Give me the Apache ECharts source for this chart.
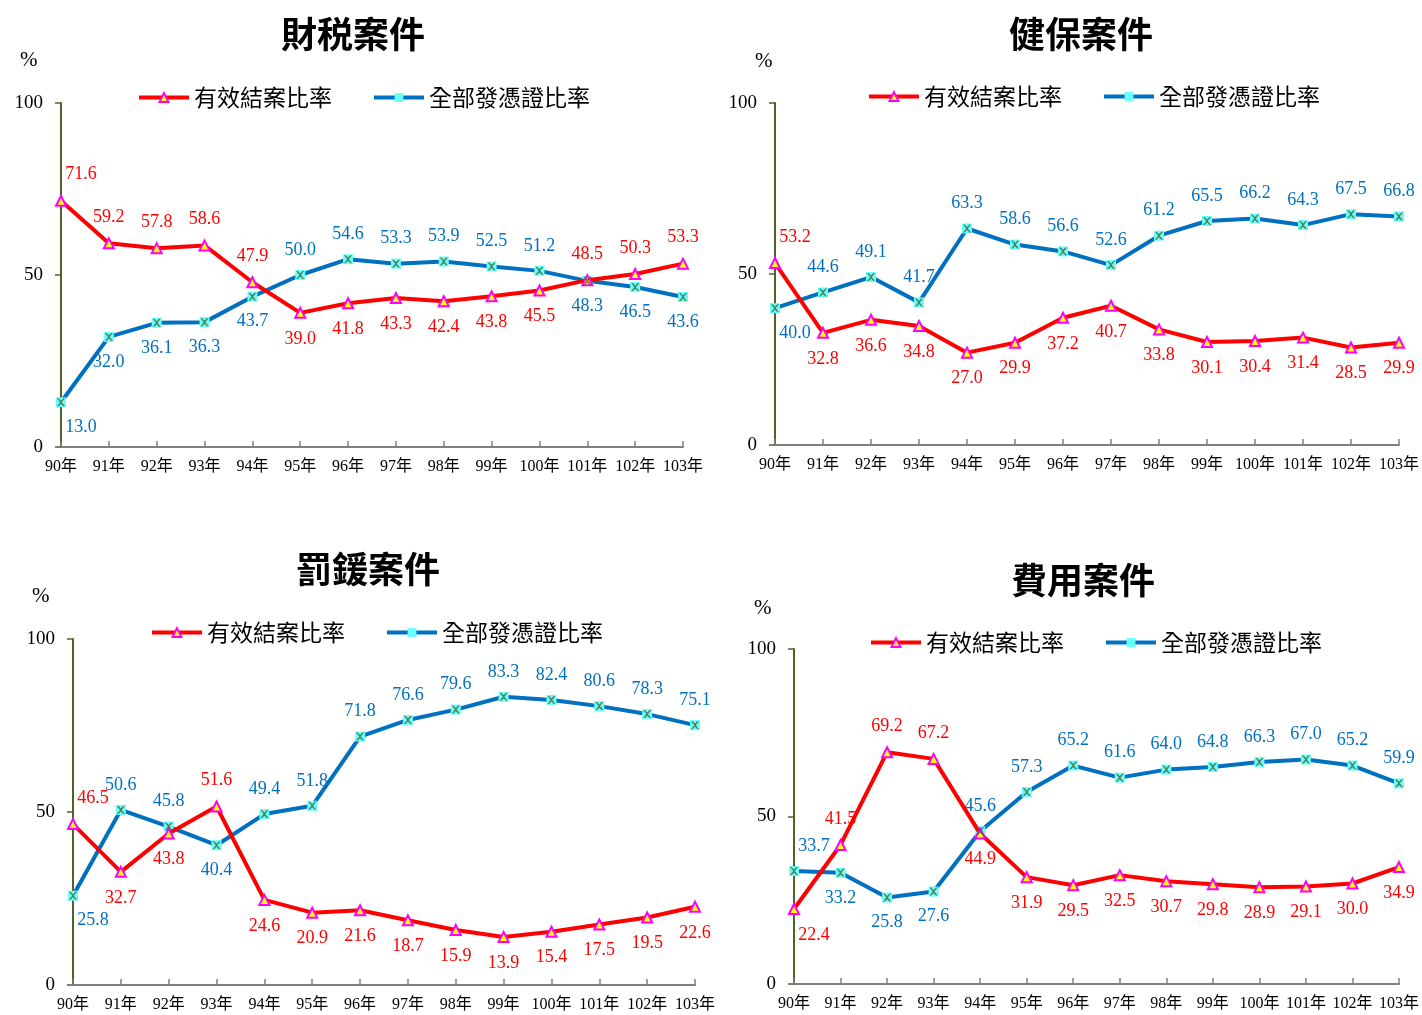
<!DOCTYPE html>
<html><head><meta charset="utf-8">
<script src="https://cdn.jsdelivr.net/npm/echarts@6/dist/echarts.min.js"></script>
<style>html,body{margin:0;padding:0;background:#fff}#c{width:1422px;height:1015px}</style>
</head><body><div id="c"></div>
<script>
const categories = ['90年','91年','92年','93年','94年','95年','96年','97年','98年','99年','100年','101年','102年','103年'];
const titles = ['財税案件','健保案件','罰鍰案件','費用案件'];
const seriesNames = ['有效結案比率','全部發憑證比率'];
const yTicks = [0, 50, 100];

const caseRateTax   = [71.6,59.2,57.8,58.6,47.9,39.0,41.8,43.3,42.4,43.8,45.5,48.5,50.3,53.3];
const certRateTax   = [13.0,32.0,36.1,36.3,43.7,50.0,54.6,53.3,53.9,52.5,51.2,48.3,46.5,43.6];
const caseRateNHI   = [53.2,32.8,36.6,34.8,27.0,29.9,37.2,40.7,33.8,30.1,30.4,31.4,28.5,29.9];
const certRateNHI   = [40.0,44.6,49.1,41.7,63.3,58.6,56.6,52.6,61.2,65.5,66.2,64.3,67.5,66.8];
const caseRateFine  = [46.5,32.7,43.8,51.6,24.6,20.9,21.6,18.7,15.9,13.9,15.4,17.5,19.5,22.6];
const certRateFine  = [25.8,50.6,45.8,40.4,49.4,51.8,71.8,76.6,79.6,83.3,82.4,80.6,78.3,75.1];
const caseRateFee   = [22.4,41.5,69.2,67.2,44.9,31.9,29.5,32.5,30.7,29.8,28.9,29.1,30.0,34.9];
const certRateFee   = [33.7,33.2,25.8,27.6,45.6,57.3,65.2,61.6,64.0,64.8,66.3,67.0,65.2,59.9];

const panelData = [
  [caseRateTax, certRateTax],
  [caseRateNHI, certRateNHI],
  [caseRateFine, certRateFine],
  [caseRateFee, certRateFee]
];

// layout (pixel positions of each panel)
const layout = [
  {grid:{left:61, top:103, width:622, height:344}, title:[353,16], legend:[137,86], pct:[30,62]},
  {grid:{left:775, top:103, width:625, height:342}, title:[1081,16], legend:[867,85], pct:[765,63]},
  {grid:{left:73, top:639, width:622, height:346}, title:[368,551], legend:[150,621], pct:[42,598]},
  {grid:{left:794, top:649, width:606, height:335}, title:[1083,562], legend:[869,631], pct:[764,610]}
];

const RED = '#FF0000', BLUE = '#0070C0';
const serif = '"Liberation Serif","Times New Roman","Noto Sans CJK TC",serif';
const cjk = '"Noto Sans CJK TC",sans-serif';
const xPath = 'path://M0,0 L2,0 L5,3 L8,0 L10,0 L6,5 L10,10 L8,10 L5,7 L2,10 L0,10 L4,5 Z';

const option = {
  animation:false,
  backgroundColor:'#fff',
  title:[], legend:[], grid:[], xAxis:[], yAxis:[], series:[], graphic:[]
};

panelData.forEach((pair, p) => {
  const L = layout[p];
  option.title.push({
    text: titles[p], left: L.title[0], top: L.title[1], textAlign:'center', padding:0,
    textStyle:{fontFamily:cjk, fontWeight:'bold', fontSize:36, color:'#000'}
  });
  option.legend.push({
    data: seriesNames, left: L.legend[0], top: L.legend[1], padding:0, itemWidth:50, itemHeight:11, itemGap:40,
    lineStyle:{width:4},
    textStyle:{fontFamily:cjk, fontSize:23, color:'#000'}, selectedMode:false
  });
  option.grid.push(Object.assign({containLabel:false}, L.grid));
  option.xAxis.push({
    type:'category', gridIndex:p, data:categories, boundaryGap:false,
    axisLine:{lineStyle:{color:'#808080', width:2}},
    axisTick:{inside:true, length:6, alignWithLabel:true, lineStyle:{color:'#808080', width:1.5}},
    axisLabel:{fontFamily:serif, fontSize:16, color:'#000', margin:12, interval:0},
    splitLine:{show:false}
  });
  option.yAxis.push({
    type:'value', gridIndex:p, min:yTicks[0], max:yTicks[2], interval:yTicks[1]-yTicks[0],
    axisLine:{show:true, lineStyle:{color:'#4F6228', width:2}},
    axisTick:{show:true, length:6, lineStyle:{color:'#4F6228', width:1.5}},
    axisLabel:{fontFamily:serif, fontSize:19, color:'#000', margin:18},
    splitLine:{show:false}
  });
  option.graphic.push({type:'text', left:L.pct[0]-10, top:L.pct[1]-12,
    style:{text:'%', font:'21px '+serif, fill:'#000'}});

  const [a, b] = pair;
  const mk = (vals, other) => vals.map((v, i) => ({
    value: v,
    label: {
      position: v >= other[i] ? 'top' : 'bottom',
      offset: i === 0 ? [20, 0] : [0, 0]
    }
  }));
  option.series.push({
    name: seriesNames[0], type:'line', xAxisIndex:p, yAxisIndex:p,
    data: mk(a, b),
    lineStyle:{color:RED, width:4}, itemStyle:{color:'#FFFF00', borderColor:'#FF00FF', borderWidth:2},
    symbol:'triangle', symbolSize:10, showAllSymbol:true, z:3,
    label:{show:true, distance:11, color:RED, fontFamily:serif, fontSize:18, formatter:d=>d.value.toFixed(1)}
  });
  option.series.push({
    name: seriesNames[1], type:'line', xAxisIndex:p, yAxisIndex:p,
    data: mk(b, a),
    lineStyle:{color:BLUE, width:4}, itemStyle:{color:'#66FFFF', borderColor:'#66FFFF', borderWidth:0},
    symbol:'rect', symbolSize:10, showAllSymbol:true, z:2,
    label:{show:true, distance:11, color:BLUE, fontFamily:serif, fontSize:18, formatter:d=>d.value.toFixed(1)}
  });
  option.series.push({
    name: 'x-mark', type:'scatter', xAxisIndex:p, yAxisIndex:p, data: b,
    symbol: xPath, symbolSize:8, itemStyle:{color:'#4F6228'}, silent:true, z:4, label:{show:false}
  });
});

const chart = echarts.init(document.getElementById('c'), null, {renderer:'canvas'});
chart.setOption(option);
</script>
</body></html>
